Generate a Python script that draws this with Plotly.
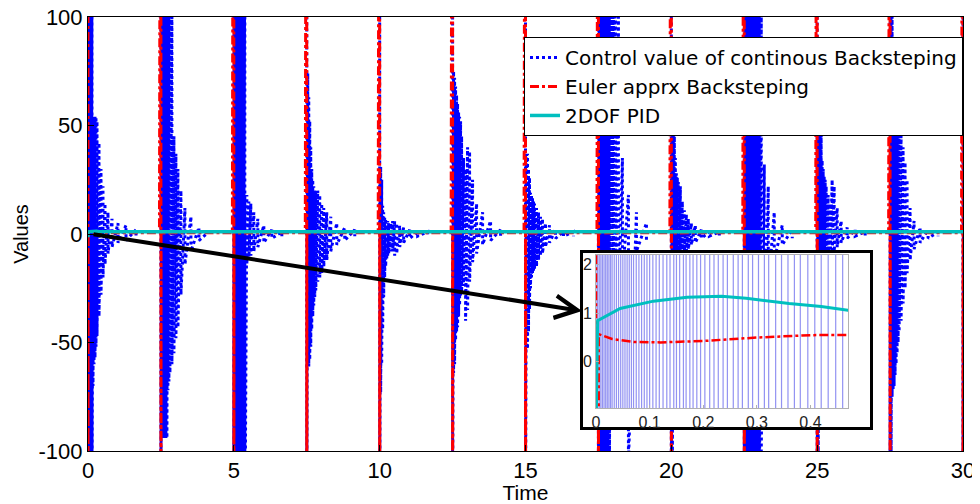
import plotly.graph_objects as go

# --- data ---

# onset of every control burst (s)
burst_t0 = [0, 2.5, 5, 7.5, 10, 12.5, 15, 17.5, 20, 22.5, 25, 27.5, 30]
# time offset of each oscillation stroke after the onset
burst_dt = [0.000, 0.034, 0.069, 0.103, 0.137, 0.171, 0.206, 0.240, 0.274, 0.309,
            0.377, 0.446, 0.514, 0.583, 0.686, 0.823, 1.029, 1.303, 1.646]
# upper / lower peak of every stroke, one row per burst
burst_hi = [
    [150, 150, 150, 150, 150, 54, 54, 54, 54, 52, 42, 30, 22, 14, 10, 7, 5, 4, 2],
    [150, 150, 150, 150, 150, 150, 150, 150, 150, 150, 110, 45, 37, 30, 20, 12, 8, 3, 1],
    [150, 150, 150, 150, 150, 150, 150, 150, 150, 150, 150, 18, 15, 14, 10, 7, 4, 2, 1],
    [150, 74, 63, 52, 40, 30, 25, 22, 20, 20, 20, 18, 14, 12, 10, 8, 5, 3, 2],
    [150, 31, 25, 13, 10, 8, 7, 6, 6, 5, 5, 6, 6, 5, 4, 3, 2, 1, 1],
    [150, 75, 72, 68, 64, 60, 56, 54, 52, 45, 35, 30, 40, 38, 25, 14, 10, 6, 2],
    [150, 37, 37, 30, 26, 19, 18, 17, 15, 14, 12, 10, 8, 7, 5, 4, 2, 1, 1],
    [150, 150, 150, 150, 150, 150, 150, 150, 150, 150, 150, 150, 150, 150, 100, 35, 18, 10, 5],
    [150, 70, 60, 45, 35, 28, 26, 24, 22, 22, 15, 11, 9, 7, 5, 4, 2, 1, 1],
    [150, 150, 150, 150, 150, 150, 150, 150, 150, 150, 150, 150, 150, 100, 32, 22, 10, 4, 2],
    [150, 80, 70, 60, 50, 34, 30, 27, 25, 22, 18, 14, 25, 22, 12, 6, 3, 2, 1],
    [150, 150, 110, 90, 80, 70, 65, 60, 58, 55, 48, 40, 33, 25, 12, 6, 3, 2, 1],
    [150, 150, 110, 90, 80, 70, 65, 60, 58, 55, 48, 40, 33, 25, 12, 6, 3, 2, 1],
]
burst_lo = [
    [-150, -150, -150, -150, -150, -70, -60, -57, -52, -47, -38, -28, -20, -14, -9, -6, -4, -3, -1],
    [-150, -94, -94, -94, -94, -94, -94, -72, -68, -64, -60, -55, -48, -43, -28, -14, -8, -3, -1],
    [-150, -150, -150, -150, -150, -150, -150, -150, -150, -150, -150, -14, -12, -10, -8, -6, -4, -2, -1],
    [-150, -61, -61, -58, -52, -44, -38, -33, -29, -26, -22, -20, -18, -15, -12, -8, -5, -3, -1],
    [-150, -73, -60, -44, -29, -20, -15, -12, -10, -9, -8, -8, -10, -9, -6, -4, -2, -1, -1],
    [-150, -64, -60, -49, -45, -43, -38, -33, -29, -27, -24, -40, -35, -22, -13, -9, -5, -3, -1],
    [-150, -53, -53, -45, -35, -25, -20, -18, -17, -16, -15, -12, -10, -9, -6, -4, -2, -1, -1],
    [-150, -150, -150, -150, -150, -150, -150, -150, -150, -150, -110, -80, -60, -45, -35, -20, -105, -8, -3],
    [-150, -110, -40, -30, -25, -22, -20, -18, -15, -12, -10, -9, -8, -7, -5, -4, -2, -1, -1],
    [-150, -150, -150, -150, -150, -150, -150, -150, -150, -150, -150, -150, -150, -100, -60, -25, -12, -5, -2],
    [-150, -110, -40, -35, -30, -28, -25, -22, -20, -18, -15, -12, -10, -8, -6, -4, -2, -1, -1],
    [-150, -110, -75, -72, -70, -65, -60, -55, -50, -45, -40, -32, -25, -18, -12, -7, -4, -2, -1],
    [-150, -110, -75, -72, -70, -65, -60, -55, -50, -45, -40, -32, -25, -18, -12, -7, -4, -2, -1],
]

# Euler approximation: switching spikes + slow response after each switch
euler_spike_t = [0, 2.5, 5, 7.5, 10, 12.5, 15, 17.5, 20, 22.5, 25, 27.5, 30]
euler_dt = [0.005, 0.03, 0.07, 0.12, 0.2, 0.3, 0.4, 0.47, 1.0, 2.45]
euler_v = [0.57, 0.47, 0.41, 0.40, 0.43, 0.50, 0.55, 0.57, 0.60, 0.60]

# 2DOF PID
pid_t = [0, 0.003, 0.045, 0.107, 0.17, 0.234, 0.28, 0.36, 0.42, 0.47, 0.8, 1.5, 30]
pid_v = [-1.5, 0.85, 1.10, 1.25, 1.33, 1.35, 1.31, 1.20, 1.14, 1.06, 1.0, 1.0, 1.0]

# oscillation strokes visible inside the zoom window (0 .. 0.47 s)
inset_osc_t = [0.000, 0.003, 0.006, 0.009, 0.012, 0.015, 0.018, 0.021, 0.024, 0.027,
               0.030, 0.034, 0.038, 0.042, 0.046, 0.050, 0.054, 0.058, 0.062, 0.066,
               0.070, 0.075, 0.080, 0.085, 0.090, 0.095, 0.100, 0.106, 0.112, 0.118,
               0.125, 0.132, 0.138, 0.145, 0.150, 0.156, 0.163, 0.168, 0.175, 0.181,
               0.188, 0.195, 0.203, 0.212, 0.220, 0.228, 0.237, 0.245, 0.256, 0.265,
               0.273, 0.284, 0.292, 0.303, 0.314, 0.322, 0.335, 0.346, 0.358, 0.370,
               0.381, 0.395, 0.408, 0.420, 0.433, 0.447, 0.460]

x_ticks = [0, 5, 10, 15, 20, 25, 30]
y_ticks = [-100, -50, 0, 50, 100]
y_ticktext = ["-100", "-50", "0", "50", "100"]

BLUE = "#0000ff"
RED = "#ff0000"
CYAN = "#00bfbf"
FONT = "Arial, Liberation Sans, sans-serif"

# --- build the sampled signals ---
bx, by = [], []
for t0, hi, lo in zip(burst_t0, burst_hi, burst_lo):
    for dt, h, l in zip(burst_dt, hi, lo):
        bx += [t0 + dt, t0 + dt]
        by += [h, l]
    bx.append(None)
    by.append(None)

ex, ey = [], []
for t0 in euler_spike_t:
    ex += [t0, t0]
    ey += [400, -400]
    for dt, v in zip(euler_dt, euler_v):
        ex.append(t0 + dt)
        ey.append(v)

ix, iy = [], []
for i, t in enumerate(inset_osc_t):
    ix += [t, t]
    iy += [60, -60] if i % 2 == 0 else [-60, 60]

fig = go.Figure()

fig.add_trace(go.Scatter(
    x=bx, y=by, mode="lines", name="Control value of continous Backsteping",
    line={"color": BLUE, "width": 3, "dash": "dot"}, connectgaps=False,
))
fig.add_trace(go.Scatter(
    x=ex, y=ey, mode="lines", name="Euler apprx Backsteping",
    line={"color": RED, "width": 3, "dash": "dashdot"},
))
fig.add_trace(go.Scatter(
    x=pid_t, y=pid_v, mode="lines", name="2DOF PID",
    line={"color": CYAN, "width": 3.5},
))

# white framed box behind the zoom window
fig.add_trace(go.Scatter(x=[], y=[], xaxis="x2", yaxis="y2", showlegend=False, hoverinfo="skip"))

# zoom window
fig.add_trace(go.Scatter(
    x=ix, y=iy, mode="lines", xaxis="x3", yaxis="y3", showlegend=False,
    line={"color": "rgba(40,40,230,0.5)", "width": 1.2},
))
fig.add_trace(go.Scatter(
    x=ex, y=ey, mode="lines", xaxis="x3", yaxis="y3", showlegend=False,
    line={"color": RED, "width": 2.5, "dash": "dashdot"},
))
fig.add_trace(go.Scatter(
    x=pid_t, y=pid_v, mode="lines", xaxis="x3", yaxis="y3", showlegend=False,
    line={"color": CYAN, "width": 3},
))

fig.add_annotation(
    x=16.94, y=-35.5, ax=0.14, ay=0, xref="x", yref="y", axref="x", ayref="y",
    text="", showarrow=True, arrowhead=5, arrowwidth=4, arrowsize=1.1,
    arrowcolor="black",
)

axis_common = {
    "showgrid": False, "zeroline": False, "showline": True, "mirror": True,
    "linecolor": "black", "linewidth": 1, "ticks": "inside", "ticklen": 6,
    "tickcolor": "black", "tickfont": {"size": 22, "color": "black"},
    "automargin": False, "ticklabeloverflow": "allow",
}

# the page body has an 8px margin, so the figure is 8px smaller than the window
fig.update_layout(
    width=972, height=496,
    margin={"l": 80, "r": 17, "t": 9, "b": 53},
    paper_bgcolor="white", plot_bgcolor="white",
    font={"family": FONT, "color": "black"},
    xaxis={**axis_common, "range": [0, 30], "tickvals": x_ticks,
           "title": {"text": "Time", "font": {"size": 21}, "standoff": 0}},
    yaxis={**axis_common, "range": [-100, 100], "tickvals": y_ticks,
           "ticktext": y_ticktext,
           "title": {"text": "Values", "font": {"size": 20}, "standoff": 4}},
    xaxis2={"domain": [0.5657, 0.8937], "anchor": "y2", "range": [0, 1],
            "showline": True, "mirror": True, "linecolor": "black", "linewidth": 2.5,
            "showgrid": False, "zeroline": False, "showticklabels": False, "ticks": "",
            "automargin": False},
    yaxis2={"domain": [0.0553, 0.4562], "anchor": "x2", "range": [0, 1],
            "showline": True, "mirror": True, "linecolor": "black", "linewidth": 2.5,
            "showgrid": False, "zeroline": False, "showticklabels": False, "ticks": "",
            "automargin": False},
    xaxis3={"domain": [0.5806, 0.8686], "anchor": "y3", "range": [0, 0.47],
            "tickvals": [0, 0.1, 0.2, 0.3, 0.4], "ticktext": ["0", "0.1", "0.2", "0.3", "0.4"],
            "showline": True, "mirror": True, "linecolor": "#b0b0b0", "linewidth": 1,
            "showgrid": False, "zeroline": False, "ticks": "inside", "ticklen": 3,
            "tickcolor": "#b0b0b0", "tickfont": {"size": 16, "color": "#222"},
            "automargin": False},
    yaxis3={"domain": [0.0991, 0.4516], "anchor": "x3", "range": [-0.95, 2.2],
            "tickvals": [0, 1, 2],
            "showline": True, "mirror": True, "linecolor": "#b0b0b0", "linewidth": 1,
            "showgrid": False, "zeroline": False, "ticks": "inside", "ticklen": 3,
            "tickcolor": "#b0b0b0", "tickfont": {"size": 16, "color": "#222"},
            "automargin": False},
    legend={"x": 1, "xanchor": "right", "y": 0.954, "yanchor": "top",
            "bgcolor": "white", "bordercolor": "black", "borderwidth": 1,
            "font": {"size": 20, "color": "black", "family": "DejaVu Sans"},
            "itemwidth": 30, "tracegroupgap": 0},
    showlegend=True,
)

fig.write_html("out.html")
